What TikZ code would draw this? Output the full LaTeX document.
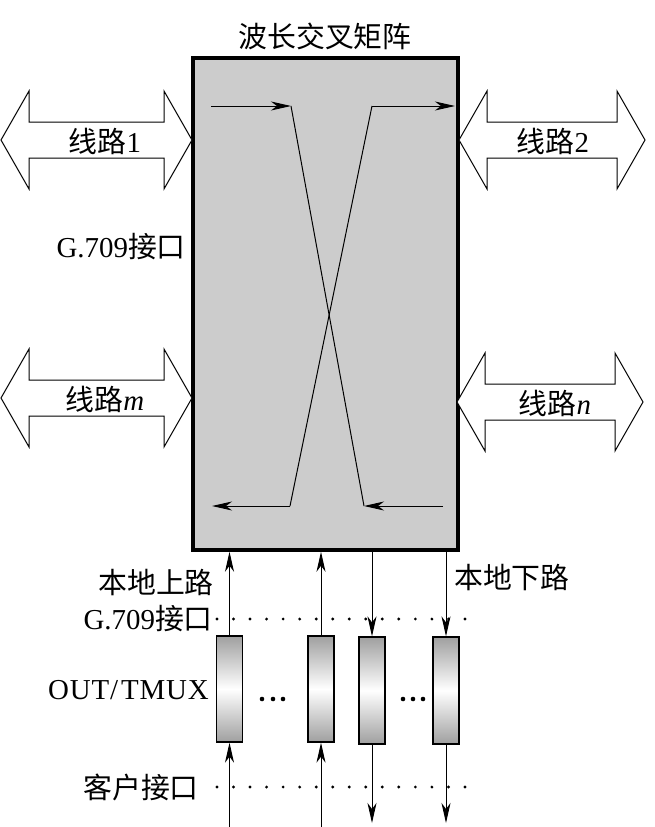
\documentclass[tikz,border=0pt]{standalone}
\usepackage{fontspec}
\setmainfont{Liberation Serif}
\newfontfamily\cjk{Noto Sans CJK SC}
\usetikzlibrary{arrows.meta}
\newcommand\dblarr[3]{%
  \draw[line width=1bp, fill=white] (#1,#3) -- (#1+28,#3-49) -- (#1+28,#3-18) -- (#2-28,#3-18) -- (#2-28,#3-49) -- (#2,#3)
   -- (#2-28,#3+49) -- (#2-28,#3+18) -- (#1+28,#3+18) -- (#1+28,#3+49) -- cycle;}
\begin{document}
\begin{tikzpicture}[x=1bp,y=-1bp,
  lbl/.style={font=\fontsize{29}{32}\selectfont, inner sep=0},
  arr/.style={line width=1bp, -{Stealth[length=20bp,width=9bp,inset=6bp]}},
  thinline/.style={line width=1bp},
  dev/.style={draw, line width=1.3bp, minimum width=26bp, minimum height=106bp, inner sep=0,
    top color=gray!75, bottom color=gray!75, middle color=white},
  dot/.style={fill=black}]
\useasboundingbox (0,0) rectangle (655,827);
% main matrix
\node[draw, line width=3.5bp, fill=black!20, minimum width=265bp, minimum height=492bp, inner sep=0] (mx) at (325.5,304) {};
\node[lbl] (title) at (325,36) {\cjk 波长交叉矩阵};
% double arrows
\dblarr{1}{192}{140}
\dblarr{459}{645}{140}
\dblarr{1}{192}{398}
\dblarr{457}{643}{402}
\node[lbl] (l1) at (105,141) {{\cjk 线路}1};
\node[lbl] (l2) at (553,141) {{\cjk 线路}2};
\node[lbl] (lm) at (105,399) {{\cjk 线路}\textit{m}};
\node[lbl] (ln) at (555,403) {{\cjk 线路}\textit{n}};
\node[lbl, anchor=east] (g1) at (186,247) {G.709{\cjk 接口}};
% internal cross connections
\coordinate (a1) at (211,106); \coordinate (a2) at (291,106);
\coordinate (b1) at (372,106); \coordinate (b2) at (455,106);
\coordinate (c1) at (290,506); \coordinate (c2) at (212,506);
\coordinate (e1) at (443,506); \coordinate (e2) at (364,506);
\draw[arr] (a1) -- (a2);
\draw[thinline] (a2) -- (e2);
\draw[thinline] (b1) -- (c1);
\draw[arr] (b1) -- (b2);
\draw[arr] (c1) -- (c2);
\draw[arr] (e1) -- (e2);
% devices
\node[dev] (d1) at (229.5,689) {};
\node[dev] (d2) at (321,689) {};
\node[dev, minimum height=107bp] (d3) at (372,690.5) {};
\node[dev, minimum height=107bp] (d4) at (446,690.5) {};
\coordinate (d1b) at (229.5,827); \coordinate (d2b) at (321,827);
\coordinate (d3b) at (372,823); \coordinate (d4b) at (446,823);
\draw[arr] (d1b) -- (d1.south);
\draw[arr] (d1.north) -- (d1.north |- mx.south);
\draw[arr] (d2b) -- (d2.south);
\draw[arr] (d2.north) -- (d2.north |- mx.south);
\draw[arr] (d3.north |- mx.south) -- (d3.north);
\draw[arr] (d3.south) -- (d3b);
\draw[arr] (d4.north |- mx.south) -- (d4.north);
\draw[arr] (d4.south) -- (d4b);
% dotted lines
\foreach \i in {0,...,15} {
  \fill (217+\i*16.53,619) circle (1.6);
  \fill (217+\i*16.53,787) circle (1.6);
}
% ellipses
\foreach \x in {262,273,283,403,413,423} \fill (\x,699) circle (2.3);
% bottom labels
\node[lbl, anchor=east] (up) at (214,582) {\cjk 本地上路};
\node[lbl, anchor=west] (down) at (454,577) {\cjk 本地下路};
\node[lbl, anchor=east] (g2) at (213,619) {G.709{\cjk 接口}};
\node[lbl, anchor=east] (otu) at (209,690) {\addfontfeatures{LetterSpace=3}OUT/\hspace{3bp}TMUX};
\node[lbl, anchor=east] (cli) at (199,787) {\cjk 客户接口};
\end{tikzpicture}
\end{document}
